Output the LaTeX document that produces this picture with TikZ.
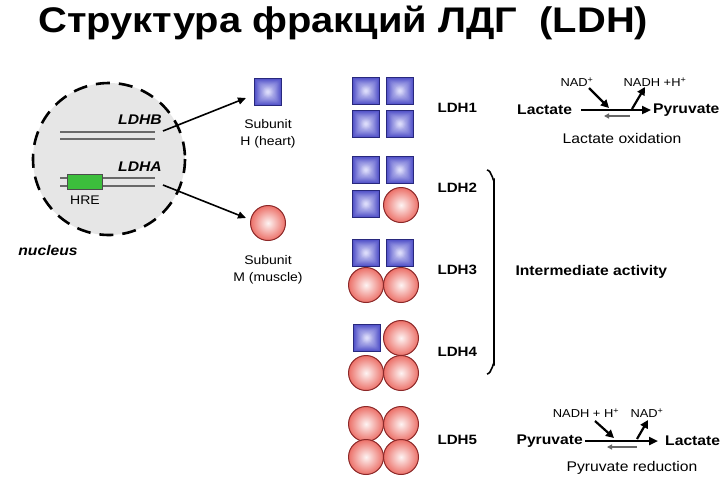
\documentclass[tikz,border=0pt]{standalone}
\usepackage{fontspec}
\setmainfont[FakeStretch=1.12]{Liberation Sans}
\usetikzlibrary{arrows.meta,calc}
\definecolor{SqDarkClr}{RGB}{78,78,200}
\definecolor{SqLightClr}{RGB}{225,225,252}
\definecolor{SqEdgeClr}{RGB}{40,40,125}
\definecolor{BallClr}{RGB}{236,112,104}
\definecolor{BallEdgeClr}{RGB}{140,40,40}
\definecolor{NucClr}{RGB}{230,230,230}
\definecolor{HreClr}{RGB}{60,190,60}
\definecolor{GeneClr}{RGB}{105,105,105}

% subunit H: square with a light centre
\newcommand{\SubH}[1]{%
  \foreach \k [evaluate=\k as \pc using {int(100-4*\k)},
               evaluate=\k as \hs using {13.5-0.5*\k},
               evaluate=\k as \rc using {min(0.3*\k,0.8*(13.5-0.5*\k))}] in {0,...,24}
    \fill[SqDarkClr!\pc!SqLightClr,shift={(#1)},rounded corners=\rc pt]
      (-\hs,-\hs) rectangle (\hs,\hs);
  \draw[SqEdgeClr,line width=1pt,shift={(#1)}] (-13.5,-13.5) rectangle (13.5,13.5);
}
% subunit M: ball
\newcommand{\SubM}[1]{%
  \shade[inner color=BallClr!8,outer color=BallClr,shift={(#1)}] (0,0) circle (17.5);
  \draw[BallEdgeClr,line width=1pt] (#1) circle (17.5);
}

\begin{document}
\begin{tikzpicture}[x=1pt,y=-1pt,
  bigarrow/.style={line width=1.6pt,-{Triangle[length=8pt,width=7pt]}},
  mainarrow/.style={line width=2.2pt,-{Triangle[length=9pt,width=8pt]}},
  backarrow/.style={line width=1.3pt,black!60,-{Triangle[length=5pt,width=5pt]}},
  sidearrow/.style={line width=2.2pt,-{Triangle[length=8pt,width=8pt]}},
  gene/.style={GeneClr,line width=1.2pt},
  lbl/.style={font=\fontsize{12.5}{17}\selectfont,align=center},
  ldh/.style={font=\fontsize{13.5}{16}\selectfont\bfseries,anchor=west},
  mol/.style={font=\fontsize{14}{17}\selectfont\bfseries,inner sep=2pt},
  cof/.style={font=\fontsize{11.5}{14}\selectfont}]

\useasboundingbox (0,0) rectangle (727,483);
\fill[white] (0,0) rectangle (727,483);

\node[font=\fontsize{35.6}{40}\selectfont\bfseries,anchor=base west] (title) at (35,32)
  {Структура фракций ЛДГ\ \ (LDH)};

% nucleus
\fill[NucClr] (109,159) circle (76);
\draw[line width=2.6pt,dash pattern=on 14pt off 9pt] (109,159) circle (76);
\node[font=\fontsize{14}{16}\selectfont\bfseries\itshape] (nucleus) at (48,250) {nucleus};

\draw[gene] (60,132) -- (155,132);
\draw[gene] (60,139) -- (155,139);
\node[font=\fontsize{14}{16}\selectfont\bfseries\itshape] (ldhb) at (140,120) {LDHB};

\draw[gene] (60,178) -- (155,178);
\draw[gene] (60,186) -- (155,186);
\draw[black!70,fill=HreClr] (67,174) rectangle (102,189);
\node[font=\fontsize{14}{16}\selectfont\bfseries\itshape] (ldha) at (140,167) {LDHA};
\node[lbl] (hre) at (85,200) {HRE};

% subunits
\coordinate (sH) at (268,92);
\coordinate (sM) at (268,223);
\SubH{sH}
\SubM{sM}
\node[lbl] (subH) at (268,134) {Subunit\\H (heart)};
\node[lbl] (subM) at (268,270) {Subunit\\M (muscle)};

\coordinate (gB) at (163,131);
\coordinate (gA) at (163,185);
\draw[bigarrow] (gB) -- ($(sH)+(-22,6)$);
\draw[bigarrow] (gA) -- ($(sM)+(-22,-5)$);

% isoenzymes
\SubH{366,91}  \SubH{400,91}  \SubH{366,124} \SubH{400,124}
\SubH{366,170} \SubH{400,170} \SubH{366,204} \SubM{401,205}
\SubH{366,253} \SubH{400,253} \SubM{366,285} \SubM{401,285}
\SubH{367,338} \SubM{401,338} \SubM{366,373} \SubM{401,373}
\SubM{366,424} \SubM{401,424} \SubM{366,457} \SubM{401,457}

\node[ldh] (ldh1) at (434,108) {LDH1};
\node[ldh] (ldh2) at (434,188) {LDH2};
\node[ldh] (ldh3) at (434,270) {LDH3};
\node[ldh] (ldh4) at (434,352) {LDH4};
\node[ldh] (ldh5) at (434,440) {LDH5};

% bracket
\draw[line width=1.6pt] (487,170) to[out=0,in=-90] (494,180) -- (494,364)
  to[out=90,in=0] (487,374);
\node[font=\fontsize{14}{16}\selectfont\bfseries,anchor=west] (inter) at (512,272)
  {Intermediate activity};

% lactate oxidation
\node[mol,anchor=west] (lac1) at (515,110) {Lactate};
\node[mol,anchor=west] (pyr1) at (651,110) {Pyruvate};
\node[cof] (nad1) at (577,82) {NAD\textsuperscript{+}};
\node[cof] (nadh1) at (655,82) {NADH +H\textsuperscript{+}};
\node[font=\fontsize{14}{16}\selectfont] (oxid) at (622,138) {Lactate oxidation};
\draw[mainarrow,shorten <=7pt] (lac1) -- (pyr1);
\coordinate (r1a) at (630,116);
\coordinate (r1b) at (604,116);
\draw[backarrow] (r1a) -- (r1b);
\coordinate (r1c) at (589,88);
\coordinate (r1d) at (609,108);
\draw[sidearrow] (r1c) -- (r1d);
\coordinate (r1e) at (632,109);
\coordinate (r1f) at (645,87);
\draw[sidearrow] (r1e) -- (r1f);

% pyruvate reduction
\node[mol,anchor=east] (pyr5) at (585,441) {Pyruvate};
\node[mol,anchor=west] (lac5) at (663,441) {Lactate};
\node[cof] (nadh5) at (586,413) {NADH + H\textsuperscript{+}};
\node[cof] (nad5) at (647,413) {NAD\textsuperscript{+}};
\node[font=\fontsize{14}{16}\selectfont] (red) at (632,468) {Pyruvate reduction};
\draw[mainarrow,shorten >=5pt] (pyr5) -- (lac5);
\coordinate (r5a) at (637,447);
\coordinate (r5b) at (607,447);
\draw[backarrow] (r5a) -- (r5b);
\coordinate (r5c) at (595,421);
\coordinate (r5d) at (614,438);
\draw[sidearrow] (r5c) -- (r5d);
\coordinate (r5e) at (637,439);
\coordinate (r5f) at (648,420);
\draw[sidearrow] (r5e) -- (r5f);

\end{tikzpicture}
\end{document}
